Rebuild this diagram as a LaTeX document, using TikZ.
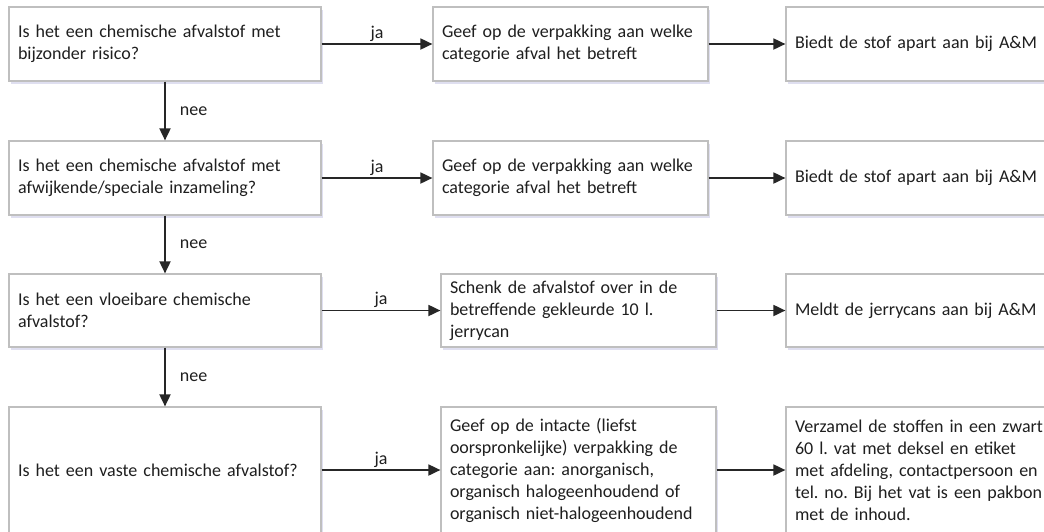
\documentclass[tikz,border=0pt]{standalone}
\usepackage{fontspec}
\setmainfont{Carlito}
\frenchspacing
\usetikzlibrary{arrows.meta,shadows}
\begin{document}
\begin{tikzpicture}[x=1pt,y=-1pt,
  box/.style={rectangle, draw=black!25, line width=1.2pt, fill=white,
    text width=257pt, inner xsep=9pt, inner ysep=0pt, align=left,
    font=\fontsize{18}{22}\selectfont, text=black!88,
    drop shadow={shadow xshift=1.5pt, shadow yshift=-2.5pt, fill=blue!35!gray, opacity=0.18}},
  qbox/.style={box, text width=294pt},
  arr/.style={draw=black!85, line width=1.8pt, -{Triangle[length=12pt,width=11pt]}},
  lab/.style={font=\fontsize{18}{22}\selectfont, text=black!88, inner sep=2pt}]
\useasboundingbox (0,0) rectangle (1044,531);
\clip (0,0) rectangle (1044,531);
\fill[white] (0,0) rectangle (1044,531);

% column 1
\node[qbox, minimum height=74pt] (q1) at (165,44) {Is het een chemische afvalstof met\\bijzonder risico?};
\node[qbox, minimum height=74pt] (q2) at (165,178) {Is het een chemische afvalstof met\\afwijkende/speciale inzameling?};
\node[qbox, minimum height=73pt] (q3) at (165,310.5) {Is het een vloeibare chemische\\afvalstof?};
\node[qbox, minimum height=126pt] (q4) at (165,470) {Is het een vaste chemische afvalstof?};

% column 2
\node[box, minimum height=74pt] (a1) at (570.5,44) {Geef op de verpakking aan welke\\categorie afval het betreft};
\node[box, minimum height=74pt] (a2) at (570.5,178) {Geef op de verpakking aan welke\\categorie afval het betreft};
\node[box, minimum height=73pt] (a3) at (578.5,310.5) {Schenk de afvalstof over in de\\betreffende gekleurde 10 l.\\jerrycan};
\node[box, minimum height=126pt] (a4) at (578.5,470) {Geef op de intacte (liefst\\oorspronkelijke) verpakking de\\categorie aan: anorganisch,\\organisch halogeenhoudend of\\organisch niet-halogeenhoudend};

% column 3
\node[box, minimum height=74pt] (b1) at (923.5,44) {Biedt de stof apart aan bij A\&M};
\node[box, minimum height=74pt] (b2) at (923.5,178) {Biedt de stof apart aan bij A\&M};
\node[box, minimum height=73pt] (b3) at (923.5,310.5) {Meldt de jerrycans aan bij A\&M};
\node[box, minimum height=126pt] (b4) at (923.5,470) {Verzamel de stoffen in een zwart\\60 l. vat met deksel en etiket\\met afdeling, contactpersoon en\\tel. no. Bij het vat is een pakbon\\met de inhoud.};

% connectors
\foreach \r in {1,2,3,4} {
  \draw[arr] (q\r.east) -- node[above, lab] {ja} (a\r.west);
  \draw[arr] (a\r.east) -- (b\r.west);
}
\draw[arr] (q1.south) -- node[right=12pt, lab] {nee} (q2.north);
\draw[arr] (q2.south) -- node[right=12pt, lab] {nee} (q3.north);
\draw[arr] (q3.south) -- node[right=12pt, lab] {nee} (q4.north);
\end{tikzpicture}
\end{document}
